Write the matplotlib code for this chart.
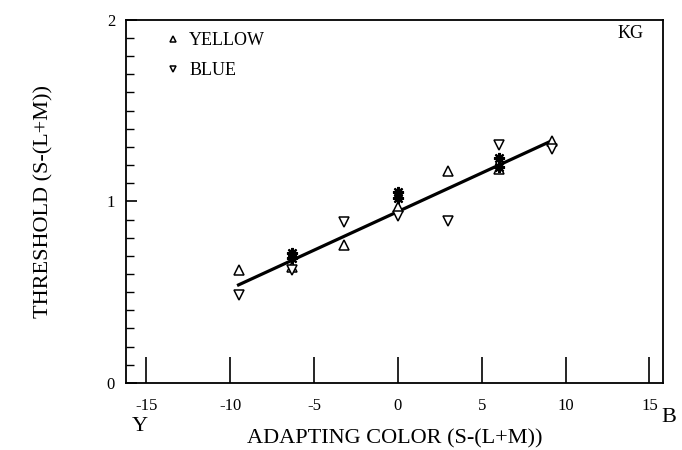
import numpy as np
import matplotlib
matplotlib.use("Agg")
import matplotlib.pyplot as plt
from matplotlib.ticker import MultipleLocator

plt.rcParams['font.family'] = ['Liberation Serif', 'DejaVu Serif']
plt.rcParams['axes.unicode_minus'] = False

# adapting color positions
adapt_x = [-9.5, -6.3, -3.2, 0.0, 3.0, 6.0, 9.2]

# thresholds for yellow and blue test colors
yellow_y = [0.62, 0.64, 0.76, 0.97, 1.17, 1.18, 1.33]
blue_y = [0.485, 0.62, 0.887, 0.92, 0.89, 1.31, 1.29]

# repeated measurements (asterisks)
star_x = [-6.3, -6.3, 0.0, 0.0, 6.0, 6.0]
star_y = [0.715, 0.69, 1.05, 1.02, 1.24, 1.19]

# regression line end points
fit_x = [-9.5, 9.2]
fit_y = [0.54, 1.335]

fig = plt.figure(figsize=(6.82, 4.5), dpi=100)
ax = fig.add_axes([0.185, 0.149, 0.787, 0.807])

ax.plot(fit_x, fit_y, color='black', linewidth=2.3, zorder=2)
ax.plot(adapt_x, yellow_y, linestyle='none', marker='^', markersize=7,
        markerfacecolor='white', markeredgecolor='black', markeredgewidth=1.1,
        label='YELLOW', zorder=3)
ax.plot(adapt_x, blue_y, linestyle='none', marker='v', markersize=7,
        markerfacecolor='white', markeredgecolor='black', markeredgewidth=1.1,
        label='BLUE', zorder=3)
ax.plot(star_x, star_y, linestyle='none', marker=(8, 2, 0), markersize=8,
        markeredgecolor='black', markeredgewidth=1.6, zorder=4)

ax.set_xlim(-16.2, 15.8)
ax.set_ylim(0, 2)

ax.xaxis.set_major_locator(MultipleLocator(5))
ax.yaxis.set_major_locator(MultipleLocator(1))
ax.yaxis.set_minor_locator(MultipleLocator(0.1))
ax.tick_params(axis='x', which='major', direction='in', length=19, width=1.2,
               pad=11, labelsize=12)
ax.tick_params(axis='y', which='major', direction='in', length=8, width=1.2,
               pad=8, labelsize=12)
ax.tick_params(axis='y', which='minor', direction='in', length=6, width=1.0)
for s in ax.spines.values():
    s.set_linewidth(1.3)

ax.set_xlabel('ADAPTING COLOR (S-(L+M))', fontsize=16, labelpad=11)
ax.set_ylabel('THRESHOLD (S-(L+M))', fontsize=16, labelpad=38)

fig.text(0.205, 0.042, 'Y', fontsize=16, ha='center')
fig.text(0.98, 0.062, 'B', fontsize=16, ha='center')
ax.text(0.965, 0.985, 'KG', transform=ax.transAxes, fontsize=13,
        ha='right', va='top')

leg = ax.legend(loc='upper left', frameon=False, fontsize=13, markerscale=0.7,
                handlelength=0.8, handletextpad=0.5, labelspacing=0.7,
                borderaxespad=0.3, bbox_to_anchor=(0.05, 1.0))

fig.savefig('out.png', dpi=100)
